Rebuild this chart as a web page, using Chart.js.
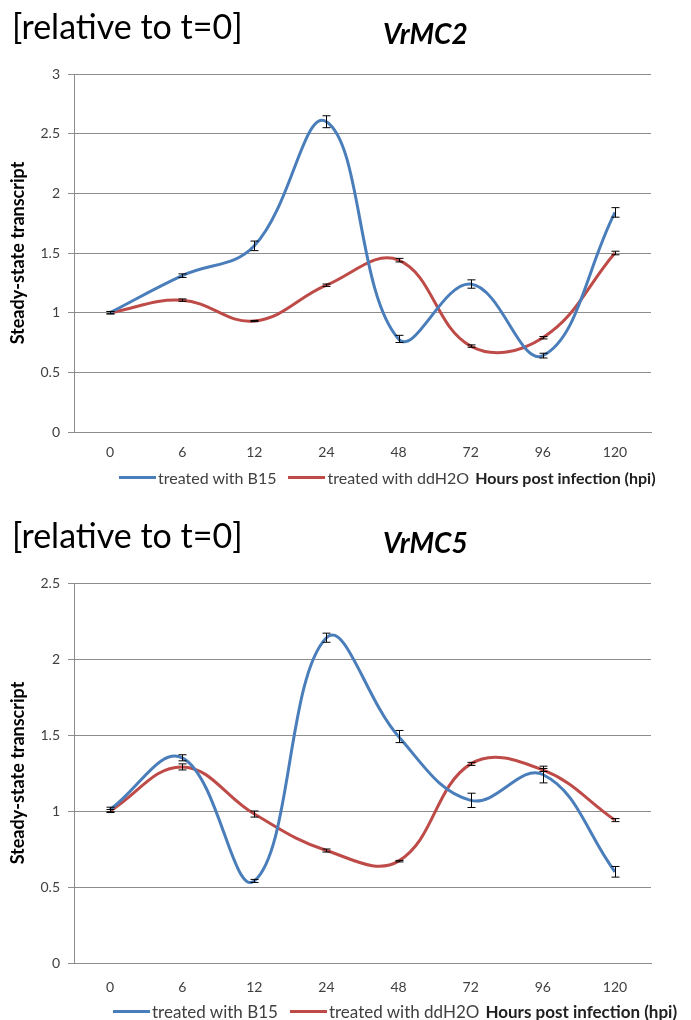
<!DOCTYPE html>
<html>
    <head>
        <title>VrMC2 / VrMC5 transcript</title>
        <script src="https://cdn.jsdelivr.net/npm/chart.js@4.4.0/dist/chart.umd.min.js"></script>
        <style>
            body { margin: 0; width: 691px; height: 1020px; position: relative; background: #fff; font-family: Lato, sans-serif; overflow: hidden; }
            .panel { position: absolute; left: 0; width: 691px; height: 510px; }
            .rel { position: absolute; left: 12px; font-size: 34px; color: #000; white-space: nowrap; }
            .gene { position: absolute; left: 383px; font-size: 28px; font-weight: bold; font-style: italic; color: #000; }
            .legend { position: absolute; font-size: 16px; color: #404040; white-space: nowrap; display: flex; align-items: center; }
            .legend .sw { display: inline-block; width: 37px; height: 3px; margin-right: 2px; }
            .legend .xt { font-weight: bold; color: #202020; margin-left: 6px; }
            canvas { position: absolute; left: 0; top: 0; }
        </style>
    </head>

    <body>
        <div class="panel" style="top:0">
            <canvas id="chart1" width="691" height="510"></canvas>
            <div class="rel" style="top:5px">[relative to t=0]</div>
            <div class="gene" style="top:16px">VrMC2</div>
            <div class="legend" style="left:119px; top:468px">
                <span class="sw" style="background:#4A7EBB"></span>treated with B15
                <span class="sw" style="background:#BE4B48; margin-left:12px"></span>treated with ddH2O
                <span class="xt">Hours post infection (hpi)</span>
            </div>
        </div>
        <div class="panel" style="top:510px">
            <canvas id="chart2" width="691" height="510"></canvas>
            <div class="rel" style="top:4px">[relative to t=0]</div>
            <div class="gene" style="top:15px">VrMC5</div>
            <div class="legend" style="left:113px; top:491px; font-size:17px">
                <span class="sw" style="background:#4A7EBB"></span>treated with B15
                <span class="sw" style="background:#BE4B48; margin-left:12px"></span>treated with ddH2O
                <span class="xt">Hours post infection (hpi)</span>
            </div>
        </div>

        <script>
            // sampling times (hpi)
            var hours = ['0', '6', '12', '24', '48', '72', '96', '120'];

            // VrMC2
            var mc2B15 = [1.0, 1.31, 1.56, 2.60, 0.78, 1.24, 0.64, 1.84];
            var mc2B15Err = [0.01, 0.015, 0.04, 0.05, 0.03, 0.035, 0.02, 0.04];
            var mc2Water = [1.0, 1.105, 0.93, 1.23, 1.44, 0.72, 0.79, 1.50];
            var mc2WaterErr = [0.01, 0.01, 0.005, 0.01, 0.015, 0.01, 0.01, 0.015];

            // VrMC5
            var mc5B15 = [1.01, 1.35, 0.54, 2.14, 1.49, 1.07, 1.24, 0.60];
            var mc5B15Err = [0.015, 0.02, 0.01, 0.03, 0.04, 0.047, 0.055, 0.035];
            var mc5Water = [1.0, 1.29, 0.98, 0.74, 0.67, 1.31, 1.27, 0.94];
            var mc5WaterErr = [0.01, 0.02, 0.02, 0.01, 0.005, 0.01, 0.01, 0.01];

            var blue = '#4A7EBB';
            var red = '#BE4B48';
            var gridGray = '#8c8c8c';

            // draws the error bars from each dataset's errors array
            var errorBars = {
                id: 'errorBars',
                afterDatasetsDraw: function(chart) {
                    var ctx = chart.ctx;
                    var x = chart.scales.x, y = chart.scales.y;
                    ctx.save();
                    ctx.strokeStyle = '#000';
                    ctx.lineWidth = 1;
                    chart.data.datasets.forEach(function(ds) {
                        ds.data.forEach(function(v, i) {
                            var px = Math.round(x.getPixelForValue(i)) + 0.5;
                            var top = y.getPixelForValue(v + ds.errors[i]);
                            var bot = y.getPixelForValue(v - ds.errors[i]);
                            ctx.beginPath();
                            ctx.moveTo(px, top); ctx.lineTo(px, bot);
                            ctx.moveTo(px - 4, top); ctx.lineTo(px + 4, top);
                            ctx.moveTo(px - 4, bot); ctx.lineTo(px + 4, bot);
                            ctx.stroke();
                        });
                    });
                    ctx.restore();
                }
            };

            function makeChart(id, b15, b15Err, water, waterErr, yMax, padTop, padBottom, tickPad) {
                var ctx = document.getElementById(id).getContext('2d');
                return new Chart(ctx, {
                    type: 'line',
                    data: {
                        labels: hours,
                        datasets: [{
                            label: 'treated with B15',
                            data: b15,
                            errors: b15Err,
                            borderColor: blue,
                            borderWidth: 3,
                            pointRadius: 0,
                            tension: 0.4,
                            fill: false
                        }, {
                            label: 'treated with ddH2O',
                            data: water,
                            errors: waterErr,
                            borderColor: red,
                            borderWidth: 3,
                            pointRadius: 0,
                            tension: 0.4,
                            fill: false
                        }]
                    },
                    options: {
                        responsive: false,
                        animation: false,
                        layout: { padding: { top: padTop, right: 40, bottom: padBottom, left: 0 } },
                        plugins: {
                            legend: { display: false },
                            tooltip: { enabled: false }
                        },
                        scales: {
                            x: {
                                offset: true,
                                grid: { display: false, drawTicks: false },
                                border: { color: gridGray },
                                ticks: { color: '#404040', font: { family: 'Lato', size: 14 }, padding: tickPad },
                                afterFit: function(s) { s.height = 30; }
                            },
                            y: {
                                min: 0,
                                max: yMax,
                                grid: { color: gridGray, tickLength: 6 },
                                border: { color: gridGray },
                                ticks: {
                                    stepSize: 0.5,
                                    color: '#404040',
                                    font: { family: 'Lato', size: 14 },
                                    padding: 8,
                                    callback: function(v) { return String(v); }
                                },
                                title: {
                                    display: true,
                                    text: 'Steady-state transcript',
                                    color: '#000',
                                    font: { family: 'Lato', size: 18, weight: 'bold' },
                                    padding: { top: 7, bottom: 0 }
                                },
                                afterFit: function(s) { s.width = 74; }
                            }
                        }
                    },
                    plugins: [errorBars]
                });
            }

            makeChart('chart1', mc2B15, mc2B15Err, mc2Water, mc2WaterErr, 3, 74, 48, 12);
            makeChart('chart2', mc5B15, mc5B15Err, mc5Water, mc5WaterErr, 2.5, 73, 27, 16);
        </script>
    </body>
</html>
